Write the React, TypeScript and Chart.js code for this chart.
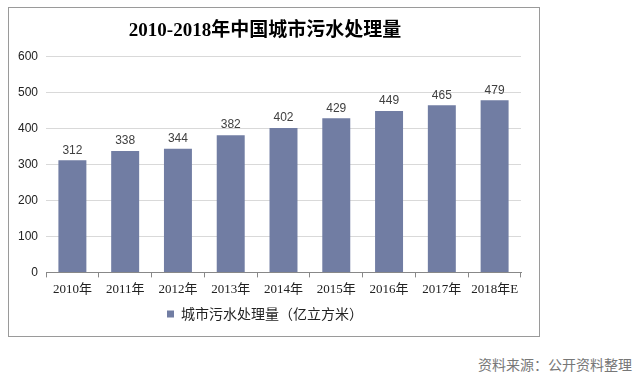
import React, { useEffect, useRef } from "react";
import { Chart, registerables } from "chart.js";

Chart.register(...registerables);

const categories = ["2010年", "2011年", "2012年", "2013年", "2014年", "2015年", "2016年", "2017年", "2018年E"];
const values = [312, 338, 344, 382, 402, 429, 449, 465, 479];
const seriesName = "城市污水处理量（亿立方米）";
const titleText = "2010-2018年中国城市污水处理量";
const sourceText = "资料来源：公开资料整理";

const barColor = "#717DA3";

const valueLabels = {
  id: "valueLabels",
  afterDatasetsDraw(chart: any) {
    const ctx = chart.ctx;
    const meta = chart.getDatasetMeta(0);
    ctx.save();
    ctx.font = "12px Arial, 'Liberation Sans', sans-serif";
    ctx.fillStyle = "#404040";
    ctx.textAlign = "center";
    ctx.textBaseline = "bottom";
    meta.data.forEach((el: any, i: number) => {
      ctx.fillText(String(values[i]), el.x, el.y - 4);
    });
    ctx.restore();
  },
};

export default function App() {
  const ref = useRef<HTMLCanvasElement>(null);
  useEffect(() => {
    if (!ref.current) return;
    const chart = new Chart(ref.current, {
      type: "bar",
      data: {
        labels: categories,
        datasets: [
          {
            label: seriesName,
            data: values,
            backgroundColor: barColor,
            categoryPercentage: 1,
            barPercentage: 0.53,
          },
        ],
      },
      options: {
        animation: false,
        responsive: false,
        maintainAspectRatio: false,
        layout: { padding: { left: 0, right: 18, top: 0, bottom: 5 } },
        plugins: {
          title: {
            display: true,
            text: titleText,
            font: { family: "'Liberation Serif', 'Noto Sans CJK SC', serif", size: 19, weight: "bold" },
            color: "#000",
            padding: { top: 12, bottom: 14 },
          },
          legend: {
            position: "bottom",
            labels: {
              boxWidth: 7,
              boxHeight: 7,
              padding: 6,
              color: "#222",
              font: { family: "'Noto Sans CJK SC', sans-serif", size: 14 },
            },
          },
          tooltip: { enabled: false },
        },
        scales: {
          x: {
            grid: { display: true, drawOnChartArea: false, offset: true, tickLength: 5, color: "#888" },
            border: { display: true, color: "#888" },
            ticks: {
              color: "#222",
              padding: 4,
              font: { family: "'Liberation Serif', 'Noto Sans CJK SC', serif", size: 13 },
              maxRotation: 0,
              autoSkip: false,
            },
          },
          y: {
            min: 0,
            max: 600,
            afterFit(scale: any) {
              scale.width = 37;
            },
            ticks: {
              stepSize: 100,
              color: "#222",
              padding: 8,
              font: { family: "Arial, 'Liberation Sans', sans-serif", size: 12 },
            },
            grid: { color: "#d9d9d9", drawTicks: false },
            border: { display: false },
          },
        },
      },
      plugins: [valueLabels],
    });
    return () => chart.destroy();
  }, []);

  return (
    <div style={{ position: "absolute", left: 0, top: 0, width: 641, height: 389, background: "#fff" }}>
      <div
        style={{
          position: "absolute",
          left: 8,
          top: 7,
          width: 530,
          height: 328,
          border: "1px solid #9a9a9a",
        }}
      >
        <canvas ref={ref} width={530} height={328} style={{ display: "block" }} />
      </div>
      <div
        style={{
          position: "absolute",
          right: 9,
          top: 354,
          fontFamily: "'Noto Sans CJK SC', sans-serif",
          fontSize: 14,
          color: "#777",
        }}
      >
        {sourceText}
      </div>
    </div>
  );
}
